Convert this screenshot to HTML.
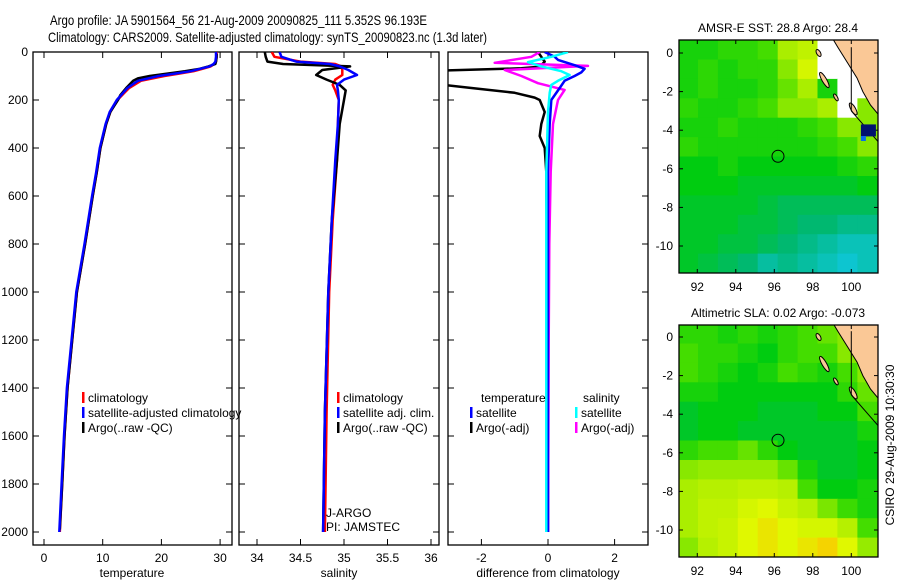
<!DOCTYPE html>
<html><head><meta charset="utf-8"><style>
html,body{margin:0;padding:0;background:#fff;}
svg{display:block;font-family:"Liberation Sans",sans-serif;}
</style></head><body>
<svg id="fig" width="900" height="580" viewBox="0 0 900 580" xmlns="http://www.w3.org/2000/svg">
<defs>
<clipPath id="c1"><rect x="33" y="52" width="199" height="493"/></clipPath>
<clipPath id="c2"><rect x="239" y="52" width="200" height="493"/></clipPath>
<clipPath id="c3"><rect x="448" y="52" width="200" height="493"/></clipPath>
<clipPath id="m1"><rect x="679" y="40" width="199" height="233"/></clipPath>
<clipPath id="m2"><rect x="679" y="325" width="199" height="232"/></clipPath>
</defs>
<text x="50" y="25" font-size="14" textLength="377" lengthAdjust="spacingAndGlyphs">Argo profile: JA 5901564_56 21-Aug-2009 20090825_111 5.352S 96.193E</text>
<text x="48" y="42" font-size="14" textLength="439" lengthAdjust="spacingAndGlyphs">Climatology: CARS2009. Satellite-adjusted climatology: synTS_20090823.nc (1.3d later)</text>
<g id="g"></g>
</svg>
<script>
// ---------- profile data ----------
const tP = [0,20,40,50,60,70,80,90,100,120,150,200,250,300,400,500,600,800,1000,1200,1400,1600,1800,2000];
const tClim = [29.4,29.4,29.3,29.0,28.4,27.0,25.5,23.0,20.5,16.5,14.5,12.5,11.3,10.6,9.6,9.0,8.3,7.0,5.6,4.8,4.0,3.5,3.1,2.7];
const tSat = [29.3,29.3,29.2,28.9,28.2,26.6,25.0,22.3,19.5,16.0,14.2,12.4,11.2,10.5,9.5,8.9,8.2,6.9,5.5,4.7,3.9,3.4,3.0,2.6];
const tArgoP = [8,20,40,50,60,70,80,90,100,110,120,150,180,200,250,300,400,500,600,800,1000,1200,1400,1600,1800,1990];
const tArgo = [29.4,29.4,29.3,29.2,28.0,26.5,24.0,21.0,18.0,16.0,15.2,14.0,13.0,12.6,11.3,10.6,9.6,9.0,8.3,7.0,5.6,4.8,4.0,3.5,3.1,2.7];

const sP = [0,20,40,50,60,75,96,115,137,160,200,300,450,700,1000,1500,2000];
const sClim = [34.17,34.2,34.5,34.9,34.97,34.98,34.98,34.9,34.87,34.9,34.94,34.93,34.92,34.87,34.83,34.8,34.78];
const sSat = [34.26,34.28,34.45,34.84,34.95,35.05,35.15,35.0,34.92,34.93,34.94,34.93,34.9,34.86,34.82,34.78,34.76];
const sArgo = [34.09,34.1,34.12,34.3,35.07,34.75,34.68,34.8,34.95,35.02,35.0,34.95,34.92,34.86,34.82,34.78,34.76];

const dTP = [0,20,33,55,70,85,100,120,150,200,300,500,1000,2000];
const dTSat = [-0.1,0.2,0.3,0.8,1.1,1.0,0.8,0.5,0.35,0.1,0.05,0,0,0];
const dTArgoP = [0,20,40,55,62,68,80,100,115,130,150,170,190,200,250,300,350,400,500,600,800,1000,1400,2000];
const dTArgo = [-0.3,-0.2,-0.1,-0.2,-0.3,-0.8,-3.8,-3.8,-3.8,-3.6,-2.3,-1.0,-0.4,-0.25,-0.1,-0.2,-0.25,-0.1,-0.05,-0.05,-0.02,0,0,0];
const dSP = [0,20,42,60,80,96,120,137,170,250,500,2000];
const dSSat = [0.6,0.1,-0.6,-0.2,0.4,0.65,0.3,0.1,0.05,0,-0.05,-0.05];
const dSArgoP = [0,20,45,58,75,100,130,158,200,300,500,800,1200,2000];
const dSArgo = [-0.25,-0.5,-1.6,1.2,-1.3,-0.8,-0.3,0.5,0.3,0.15,0.08,0.04,0.02,0];

const yTicks = [0,200,400,600,800,1000,1200,1400,1600,1800,2000];
const tTicks = [0,10,20,30];
const sTicks = [34,34.5,35,35.5,36];
const dTicks = [-2,0,2];
const lonTicks = [92,94,96,98,100];
const latTicks = [0,-2,-4,-6,-8,-10];

const sstGrid = [
[.5,.5,.55,.55,.6,.75,.8,null,null,null],
[.5,.55,.5,.55,.55,.7,.85,null,null,null],
[.5,.55,.5,.5,.55,.65,.75,.5,null,null],
[.55,.5,.5,.55,.6,.7,.7,.75,null,.7],
[.5,.5,.55,.5,.5,.5,.55,.6,.7,.7],
[.55,.5,.5,.5,.5,.5,.5,.55,.6,.7],
[.45,.45,.5,.45,.45,.45,.45,.45,.5,.55],
[.45,.45,.45,.4,.4,.4,.4,.4,.4,.45],
[.4,.4,.4,.4,.35,.3,.3,.3,.3,.3],
[.4,.4,.4,.35,.35,.3,.25,.25,.2,.2],
[.4,.4,.35,.35,.3,.25,.2,.15,.1,.1],
[.4,.35,.3,.25,.15,.2,.15,.1,.05,.1]];
const slaGrid = [
[.55,.55,.5,.55,.5,.55,.6,.65,.7,.75],
[.6,.55,.55,.5,.45,.55,.6,.6,.7,.75],
[.6,.55,.5,.45,.5,.6,.55,.5,.6,.7],
[.5,.5,.45,.45,.45,.45,.45,.45,.55,.65],
[.4,.45,.45,.45,.4,.4,.4,.45,.45,.6],
[.4,.45,.45,.4,.4,.4,.4,.4,.4,.5],
[.55,.6,.6,.65,.55,.45,.4,.4,.4,.45],
[.7,.72,.72,.72,.72,.65,.5,.4,.4,.45],
[.75,.78,.78,.8,.8,.78,.6,.45,.45,.5],
[.75,.8,.8,.85,.88,.82,.78,.68,.58,.5],
[.75,.8,.82,.88,.92,.88,.85,.85,.78,.6],
[.7,.78,.82,.88,.92,.88,.92,.96,.88,.72]];
const argoLon = 96.193, argoLat = -5.352;

const NS="http://www.w3.org/2000/svg";
const G=document.getElementById('g');
function mk(tag,attrs,parent){const e=document.createElementNS(NS,tag);for(const k in attrs)e.setAttribute(k,attrs[k]);(parent||G).appendChild(e);return e;}

const py = p => 52 + p*0.24;
const xT = v => 44 + v*5.87;
const xS = v => 257 + (v-34)*87;
const xD = v => 548 + v*33.3;

function frame(x0,x1,name){
  const r=mk('rect',{x:x0,y:52,width:x1-x0,height:493,fill:'none',stroke:'#000','stroke-width':1.3});
  
  
  yTicks.forEach(p=>{
    mk('line',{x1:x0,x2:x0+6,y1:py(p),y2:py(p),stroke:'#000'});
    mk('line',{x1:x1-6,x2:x1,y1:py(p),y2:py(p),stroke:'#000'});
  });
}
function xticks(ticks,f){
  ticks.forEach(v=>{
    const x=f(v);
    mk('line',{x1:x,x2:x,y1:52,y2:58,stroke:'#000'});
    mk('line',{x1:x,x2:x,y1:539,y2:545,stroke:'#000'});
    const t=mk('text',{x:x,y:562,'font-size':12,'text-anchor':'middle'});
    t.textContent=String(v);
    
    
  });
}
function line(P,V,fx,color,clip,name,w){
  const d=P.map((p,i)=>(i?'L':'M')+fx(V[i]).toFixed(1)+','+py(p).toFixed(1)).join('');
  const e=mk('path',{d:d,fill:'none',stroke:color,'stroke-width':w||2.5,'clip-path':'url(#'+clip+')','stroke-linejoin':'round'});
  
  
}
function label(x,y,txt,name,size,anchor){
  const t=mk('text',{x:x,y:y,'font-size':size||12,'text-anchor':anchor||'start'});
  t.textContent=txt;
  
  
  return t;
}
function legend(x,y,color,txt,name){
  if(color) mk('rect',{x:x,y:y-10,width:2.5,height:11,fill:color});
  label(x+6,y,txt,name);
}

frame(33,232,'temperature-panel');
xticks(tTicks,xT);
yTicks.forEach(p=>{label(28,py(p)+4,String(p),'y-tick-label',12,'end');});
line(tP,tClim,xT,'#f00','c1','temp-climatology-line');
line(tArgoP,tArgo,xT,'#000','c1','temp-argo-line');
line(tP,tSat,xT,'#00f','c1','temp-satellite-line');
label(132,577,'temperature','x-axis-title-temperature',12,'middle');
legend(82,402,'#f00','climatology','legend-climatology');
legend(82,417,'#00f','satellite-adjusted climatology','legend-satellite');
legend(82,432,'#000','Argo(..raw -QC)','legend-argo');

frame(239,439,'salinity-panel');
xticks(sTicks,xS);
line(sP,sClim,xS,'#f00','c2','sal-climatology-line');
line(sP,sArgo,xS,'#000','c2','sal-argo-line');
line(sP,sSat,xS,'#00f','c2','sal-satellite-line');
label(339,577,'salinity','x-axis-title-salinity',12,'middle');
legend(337,402,'#f00','climatology','legend-climatology-2');
legend(337,417,'#00f','satellite adj. clim.','legend-satellite-2');
legend(337,432,'#000','Argo(..raw -QC)','legend-argo-2');
label(326,517,'J-ARGO','project-label');
label(326,531,'PI: JAMSTEC','pi-label');

frame(448,648,'difference-panel');
xticks(dTicks,xD);
line(dTArgoP,dTArgo,xD,'#000','c3','diff-temp-argo-line');
line(dSArgoP,dSArgo,xD,'#f0f','c3','diff-sal-argo-line');
line(dTP,dTSat,xD,'#00f','c3','diff-temp-satellite-line');
line(dSP,dSSat,xD,'#0ff','c3','diff-sal-satellite-line');
label(548,577,'difference from climatology','x-axis-title-difference',12,'middle');
label(481,402,'temperature','legend-temperature-header');
label(583,402,'salinity','legend-salinity-header');
legend(470,417,'#00f','satellite','legend-temp-satellite');
legend(470,432,'#000','Argo(-adj)','legend-temp-argo');
legend(575,417,'#0ff','satellite','legend-sal-satellite');
legend(575,432,'#f0f','Argo(-adj)','legend-sal-argo');

const stops=[[0,[16,200,232]],[.25,[0,184,112]],[.45,[0,204,16]],[.6,[68,221,0]],[.75,[170,238,0]],[.88,[224,248,0]],[1,[255,192,0]]];
function cmap(v){for(let i=1;i<stops.length;i++){if(v<=stops[i][0]){const a=stops[i-1],b=stops[i],f=(v-a[0])/(b[0]-a[0]);const c=a[1].map((x,k)=>Math.round(x+(b[1][k]-x)*f));return 'rgb('+c.join(',')+')';}}return 'rgb(255,192,0)';}
function drawMap(grid,top,bottom,lat0y,clip,name,title){
  const lx=lon=>679+(lon-91.05)*19.25;
  const ly=lat=>lat0y-lat*19.3;
  const lonMin=91.0,lonMax=101.35,latMax=0.67,latMin=-11.4;
  const nr=grid.length,nc=grid[0].length;
  const cw=(lonMax-lonMin)/nc,ch=(latMax-latMin)/nr;
  const g=mk('g',{'clip-path':'url(#'+clip+')'});
  
  
  grid.forEach((row,r)=>row.forEach((v,c)=>{
    const x=lx(lonMin+c*cw),y=ly(latMax-r*ch);
    const cell=mk('rect',{x:x.toFixed(1),y:y.toFixed(1),width:(cw*19.25+0.6).toFixed(1),height:(ch*19.3+0.6).toFixed(1),fill:v===null?'#fff':cmap(v)},g);
    
    
  }));
  const land=[[99.0,0.8],[99.3,0.3],[99.8,-0.5],[100.3,-1.3],[100.6,-2.0],[101.0,-2.7],[101.5,-3.3],[101.5,0.8]];
  mk('path',{d:land.map((p,i)=>(i?'L':'M')+lx(p[0])+','+ly(p[1])).join('')+'Z',fill:'#fac896',stroke:'#000','stroke-width':1},g);
  [[98.3,0.0,0.1,0.2],[98.6,-1.4,0.12,0.45],[99.2,-2.3,0.08,0.2],[100.1,-2.9,0.12,0.35]].forEach(a=>{
    mk('ellipse',{cx:lx(a[0]),cy:ly(a[1]),rx:a[2]*19.25,ry:a[3]*19.3,fill:'#fac896',stroke:'#000','stroke-width':1,transform:'rotate(-30 '+lx(a[0])+' '+ly(a[1])+')'},g);
  });
  mk('line',{x1:lx(100),x2:lx(100),y1:ly(0.3),y2:ly(-3.0),stroke:'#000'},g);
  mk('path',{d:'M'+lx(100)+','+ly(-3)+'L'+lx(101.4)+','+ly(-4.6),stroke:'#000',fill:'none'},g);
  const circ=mk('circle',{cx:lx(argoLon),cy:ly(argoLat),r:6,fill:'none',stroke:'#000','stroke-width':1});
  
  
  const fr=mk('rect',{x:679,y:top,width:199,height:bottom-top,fill:'none',stroke:'#000','stroke-width':1.3});
  
  
  lonTicks.forEach(l=>{const x=lx(l);mk('line',{x1:x,x2:x,y1:top,y2:top+4,stroke:'#000'});mk('line',{x1:x,x2:x,y1:bottom-4,y2:bottom,stroke:'#000'});label(x,bottom+18,String(l),'map-x-tick-label',12,'middle');});
  latTicks.forEach(l=>{const y=ly(l);mk('line',{x1:679,x2:683,y1:y,y2:y,stroke:'#000'});mk('line',{x1:874,x2:878,y1:y,y2:y,stroke:'#000'});label(673,y+4,String(l),'map-y-tick-label',12,'end');});
  label(778,top-8,title,name+'-title',12,'middle');
  return {lx,ly};
}
const a=drawMap(sstGrid,40,273,53,'m1','sst-map','AMSR-E SST: 28.8 Argo: 28.4');
mk('rect',{x:a.lx(100.5),y:a.ly(-3.7),width:15,height:12,fill:'#00126e','clip-path':'url(#m1)'});
mk('rect',{x:a.lx(100.5),y:a.ly(-4.3),width:5,height:5,fill:'#0a6ee8','clip-path':'url(#m1)'});
drawMap(slaGrid,325,557,337,'m2','sla-map','Altimetric SLA: 0.02 Argo: -0.073');
const cs=label(0,0,'CSIRO 29-Aug-2009 10:30:30','timestamp-label',12,'middle');
cs.setAttribute('transform','translate(894,445) rotate(-90)');
</script>
</body></html>
